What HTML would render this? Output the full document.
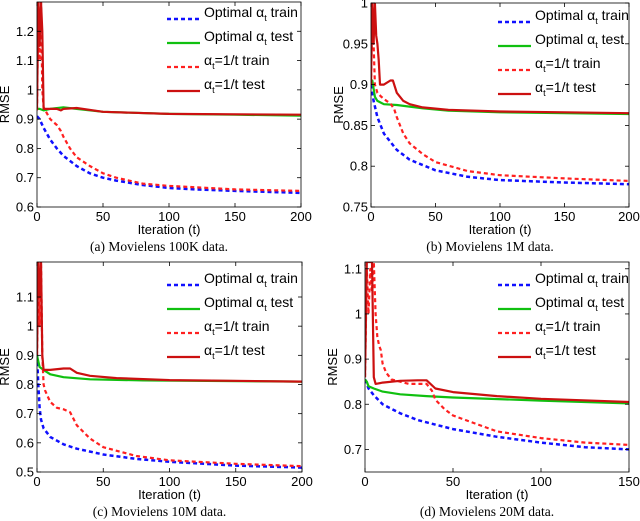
<!DOCTYPE html>
<html><head><meta charset="utf-8"><style>
body{margin:0;background:#fff;}
svg{display:block;font-family:"Liberation Sans",sans-serif;}
.cap{font-family:"Liberation Serif",serif;font-size:13.5px;}
</style></head><body>
<svg id="fig" width="640" height="521"></svg>
<script>
// ---- data: panel (a) Movielens 100K ----
const aOptTrainT=[0,2,5,10,15,20,30,40,50,60,80,100,120,150,200];
const aOptTrainV=[0.91,0.9,0.87,0.83,0.8,0.775,0.74,0.715,0.7,0.69,0.675,0.665,0.66,0.655,0.648];
const aOptTestT=[0,2,5,10,20,30,50,100,150,200];
const aOptTestV=[0.935,0.935,0.93,0.935,0.94,0.935,0.925,0.918,0.915,0.912];
const aInvTrainT=[0,1,2,3,4,5,10,15,18,20,25,30,40,50,60,80,100,150,200];
const aInvTrainV=[0.93,1.3,1.1,1.3,1.0,0.94,0.9,0.88,0.86,0.84,0.8,0.77,0.74,0.715,0.7,0.68,0.672,0.66,0.655];
const aInvTestT=[0,1,2,3,4,5,10,15,18,20,30,50,100,200];
const aInvTestV=[0.935,1.3,1.15,1.3,1.2,0.935,0.935,0.935,0.93,0.935,0.938,0.925,0.918,0.915];
const aYTicks=[0.6,0.7,0.8,0.9,1,1.1,1.2];
// ---- panel (b) Movielens 1M ----
const bOptTrainT=[0,2,5,10,20,30,50,75,100,150,200];
const bOptTrainV=[0.9,0.88,0.86,0.84,0.82,0.808,0.795,0.787,0.783,0.78,0.778];
const bOptTestT=[0,1,2,3,5,10,20,40,60,100,150,200];
const bOptTestV=[0.9,0.905,0.895,0.885,0.88,0.876,0.875,0.871,0.868,0.866,0.865,0.864];
const bInvTrainT=[0,1,2,3,5,8,12,15,18,20,25,30,40,50,75,100,150,200];
const bInvTrainV=[0.9,1.0,0.95,0.9,0.89,0.885,0.88,0.877,0.87,0.86,0.84,0.828,0.815,0.805,0.794,0.789,0.785,0.782];
const bInvTestT=[0,1,2,3,4,5,6,7,10,15,17,20,25,30,40,60,100,150,200];
const bInvTestV=[0.9,1.0,0.95,1.0,0.96,0.95,0.93,0.9,0.9,0.905,0.905,0.89,0.88,0.876,0.872,0.869,0.867,0.866,0.865];
const bYTicks=[0.75,0.8,0.85,0.9,0.95,1];
// ---- panel (c) Movielens 10M ----
const cOptTrainT=[0,1,2,3,5,10,20,30,50,75,100,150,200];
const cOptTrainV=[0.9,0.8,0.72,0.68,0.65,0.62,0.595,0.58,0.56,0.545,0.535,0.522,0.515];
const cOptTestT=[0,1,2,5,10,20,40,80,200];
const cOptTestV=[0.9,0.88,0.86,0.85,0.835,0.825,0.818,0.814,0.81];
const cInvTrainT=[0,1,2,3,4,5,6,8,10,15,20,25,30,40,50,75,100,150,200];
const cInvTrainV=[0.9,1.22,1.0,1.22,0.9,0.8,0.78,0.76,0.74,0.72,0.715,0.705,0.66,0.615,0.585,0.555,0.54,0.528,0.52];
const cInvTestT=[0,1,2,3,4,5,10,20,25,30,40,60,100,200];
const cInvTestV=[0.9,1.22,1.1,1.22,0.9,0.85,0.85,0.855,0.855,0.84,0.83,0.822,0.815,0.81];
const cYTicks=[0.5,0.6,0.7,0.8,0.9,1,1.1];
// ---- panel (d) Movielens 20M ----
const dOptTrainT=[0,1,2,5,10,20,30,50,75,100,125,150];
const dOptTrainV=[0.855,0.845,0.835,0.82,0.8,0.78,0.765,0.745,0.728,0.715,0.705,0.7];
const dOptTestT=[0,1,2,5,10,20,35,50,100,150];
const dOptTestV=[0.855,0.85,0.84,0.835,0.828,0.822,0.818,0.815,0.808,0.802];
const dInvTrainT=[0,1,2,3,4,5,6,7,8,9,10,12,15,20,25,30,35,38,40,45,50,75,100,125,150];
const dInvTrainV=[0.86,1.1,1.0,1.1,1.05,1.115,1.0,0.95,0.93,0.92,0.89,0.87,0.855,0.85,0.845,0.845,0.845,0.83,0.81,0.79,0.775,0.74,0.725,0.715,0.71];
const dInvTestT=[0,1,2,3,4,5,6,10,20,30,35,40,50,75,100,150];
const dInvTestV=[0.86,1.115,1.115,1.115,1.115,0.86,0.845,0.848,0.852,0.853,0.853,0.835,0.827,0.818,0.812,0.805];
const dYTicks=[0.7,0.8,0.9,1,1.1];
const xTicks200=[0,50,100,150,200];
const xTicks150=[0,50,100,150];

const NS="http://www.w3.org/2000/svg";
const svg=document.getElementById('fig');
function mk(tag,attrs,parent){const e=document.createElementNS(NS,tag);for(const k in attrs)e.setAttribute(k,attrs[k]);(parent||svg).appendChild(e);return e;}

const panels=[
 {id:'a',L:37,R:301,T:2,B:207,xmax:200,ymin:0.6,ymax:1.3,yt:aYTicks,xt:xTicks200,lx:167,ly:17,cap:'(a) Movielens 100K data.',
  s:[[aOptTrainT,aOptTrainV],[aOptTestT,aOptTestV],[aInvTrainT,aInvTrainV],[aInvTestT,aInvTestV]]},
 {id:'b',L:371,R:629,T:3,B:207,xmax:200,ymin:0.75,ymax:1.0,yt:bYTicks,xt:xTicks200,lx:498,ly:20,cap:'(b) Movielens 1M data.',
  s:[[bOptTrainT,bOptTrainV],[bOptTestT,bOptTestV],[bInvTrainT,bInvTrainV],[bInvTestT,bInvTestV]]},
 {id:'c',L:37,R:302,T:262,B:472,xmax:200,ymin:0.5,ymax:1.22,yt:cYTicks,xt:xTicks200,lx:167,ly:283,cap:'(c) Movielens 10M data.',
  s:[[cOptTrainT,cOptTrainV],[cOptTestT,cOptTestV],[cInvTrainT,cInvTrainV],[cInvTestT,cInvTestV]]},
 {id:'d',L:365,R:629,T:262,B:472,xmax:150,ymin:0.65,ymax:1.115,yt:dYTicks,xt:xTicks150,lx:498,ly:283,cap:'(d) Movielens 20M data.',
  s:[[dOptTrainT,dOptTrainV],[dOptTestT,dOptTestV],[dInvTrainT,dInvTrainV],[dInvTestT,dInvTestV]]}
];
const styles=[
 {c:'#1010ff',w:2.5,d:'4,3',n:'optimal-train'},
 {c:'#10c010',w:2.2,d:'',n:'optimal-test'},
 {c:'#ff2020',w:2.2,d:'4,3',n:'inv-t-train'},
 {c:'#cc1010',w:2.2,d:'',n:'inv-t-test'}];
const legendLabels=[['Optimal α','t',' train'],['Optimal α','t',' test'],['α','t','=1/t train'],['α','t','=1/t test']];

panels.forEach(p=>{
 const g=mk('g',{});
 
 
 const sx=t=>p.L+(t/p.xmax)*(p.R-p.L);
 const sy=v=>p.B-(v-p.ymin)/(p.ymax-p.ymin)*(p.B-p.T);
 const cid='clip'+p.id;
 const cp=mk('clipPath',{id:cid},g);mk('rect',{x:p.L,y:p.T,width:p.R-p.L,height:p.B-p.T},cp);
 p.s.forEach((ser,i)=>{
  const st=styles[i];
  const pts=ser[0].map((t,k)=>sx(t).toFixed(1)+','+sy(ser[1][k]).toFixed(1)).join(' ');
  const pl=mk('polyline',{points:pts,fill:'none',stroke:st.c,'stroke-width':st.w,'stroke-dasharray':st.d,'clip-path':'url(#'+cid+')','stroke-linejoin':'round'},g);
  
  
 });
 const fr=mk('rect',{x:p.L,y:p.T,width:p.R-p.L,height:p.B-p.T,fill:'none',stroke:'#000','stroke-width':0.8},g);
 
 
 p.yt.forEach(v=>{
  const y=sy(v);
  mk('line',{x1:p.L,x2:p.L+4,y1:y,y2:y,stroke:'#000','stroke-width':0.8},g);
  mk('line',{x1:p.R,x2:p.R-4,y1:y,y2:y,stroke:'#000','stroke-width':0.8},g);
  const tx=mk('text',{x:p.L-3,y:y+4.5,'text-anchor':'end','font-size':13},g);
  tx.textContent=String(v);
  
  
 });
 p.xt.forEach(t=>{
  const x=sx(t);
  mk('line',{x1:x,x2:x,y1:p.B,y2:p.B-4,stroke:'#000','stroke-width':0.8},g);
  mk('line',{x1:x,x2:x,y1:p.T,y2:p.T+4,stroke:'#000','stroke-width':0.8},g);
  const tx=mk('text',{x:x,y:p.B+14,'text-anchor':'middle','font-size':13},g);
  tx.textContent=String(t);
  
  
 });
 const xl=mk('text',{x:(p.L+p.R)/2,y:p.B+27,'text-anchor':'middle','font-size':13},g);
 xl.textContent='Iteration (t)';
 
 
 const yx=p.L-28, yy=(p.T+p.B)/2;
 const yl=mk('text',{x:yx,y:yy,'text-anchor':'middle','font-size':13,transform:'rotate(-90 '+yx+' '+yy+')'},g);
 yl.textContent='RMSE';
 
 
 const cap=mk('text',{x:(p.L+p.R)/2-10,y:p.B+44,'text-anchor':'middle',class:'cap'},g);
 cap.textContent=p.cap;
 
 
 legendLabels.forEach((lab,i)=>{
  const st=styles[i]; const y=p.ly+i*24;
  const le=mk('g',{},g);
  
  
  mk('line',{x1:p.lx,x2:p.lx+33,y1:y+2,y2:y+2,stroke:st.c,'stroke-width':st.w,'stroke-dasharray':st.d},le);
  const t=mk('text',{x:p.lx+37,y:y,'font-size':14},le);
  const s1=mk('tspan',{},t);s1.textContent=lab[0];
  const s2=mk('tspan',{dy:4,'font-size':9},t);s2.textContent=lab[1];
  const s3=mk('tspan',{dy:-4},t);s3.textContent=lab[2];
 });
});
</script>
</body></html>
